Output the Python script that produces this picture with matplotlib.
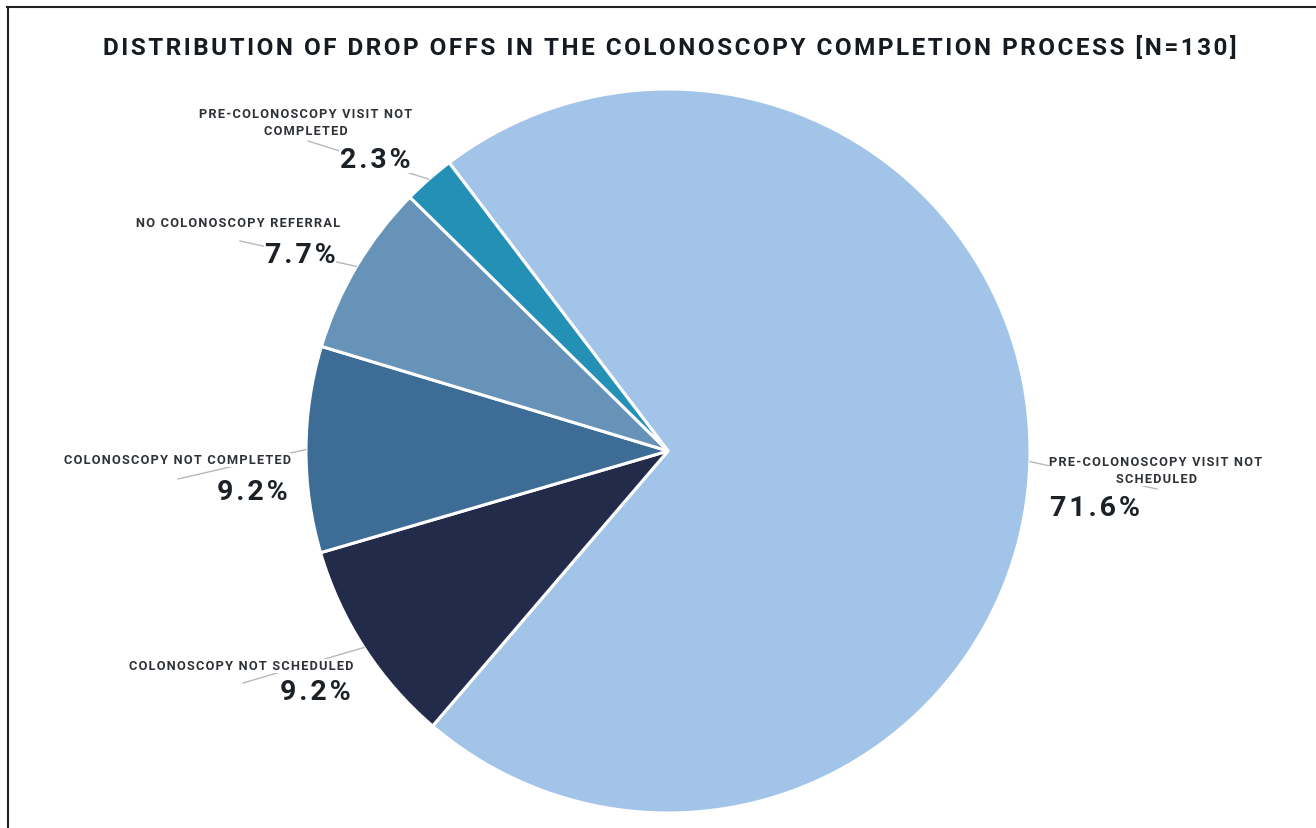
import matplotlib
matplotlib.use("Agg")
from matplotlib import pyplot as plt
from matplotlib.lines import Line2D
import numpy as np

# slice data, clockwise from the big slice
categories = ["PRE-COLONOSCOPY VISIT NOT\nSCHEDULED",
              "COLONOSCOPY NOT SCHEDULED",
              "COLONOSCOPY NOT COMPLETED",
              "NO COLONOSCOPY REFERRAL",
              "PRE-COLONOSCOPY VISIT NOT\nCOMPLETED"]
shares = [71.6, 9.2, 9.2, 7.7, 2.3]
colors = ["#a2c4e9", "#222b4a", "#3d6d96", "#6893b9", "#2590b6"]

title = "DISTRIBUTION OF DROP OFFS IN THE COLONOSCOPY COMPLETION PROCESS [N=130]"

W, H = 1316, 829
CX, CY, R = 668, 452, 362

# label layout in pixels: category centre, percent centre, leader end
cat_pos = [(1156, 471), (241, 667), (177, 461), (238, 223), (306, 123)]
pct_pos = [(1095, 509), (315, 693), (252, 492), (300, 255), (375, 160)]
lead_end = [(1157, 490), (243, 684), (178, 480), (240, 242), (308, 142)]


def spaced(s, sep="\u200a"):
    return "\n".join(sep.join(line) for line in s.split("\n"))


def to_data(p):
    return (p[0] - CX) / R, (CY - p[1]) / R


plt.rcParams['font.family'] = ['Roboto', 'DejaVu Sans']

fig = plt.figure(figsize=(W / 100, H / 100), dpi=100)
ax = fig.add_axes([(CX - R) / W, (H - CY - R) / H, 2 * R / W, 2 * R / H])

wedges, _ = ax.pie(shares, colors=colors, startangle=127.2, counterclock=False,
                   radius=1, wedgeprops=dict(edgecolor="white", linewidth=2.2))
ax.set_xlim(-1, 1)
ax.set_ylim(-1, 1)
ax.axis("off")

for i, w in enumerate(wedges):
    mid = np.deg2rad((w.theta1 + w.theta2) / 2)
    ex, ey = to_data(lead_end[i])
    ax.plot([np.cos(mid), ex], [np.sin(mid), ey], color="#b5b9bd", lw=1.0,
            zorder=1, clip_on=False)
    cx, cy = to_data(cat_pos[i])
    ax.text(cx, cy, spaced(categories[i]), ha="center", va="center",
            fontsize=9.2, fontweight="bold", color="#2e3236", linespacing=1.4,
            zorder=3, bbox=dict(fc="white", ec="none", pad=0.5))
    px, py = to_data(pct_pos[i])
    ax.text(px, py, spaced(f"{shares[i]:.1f}%"), ha="center", va="center",
            fontsize=20.5, fontweight="semibold", color="#1b2126",
            zorder=3, bbox=dict(fc="white", ec="none", pad=0.5))

fig.text(669.5 / W, 1 - 48 / H, spaced(title), ha="center", va="center",
         fontsize=17.5, fontweight="bold", color="#151b20")

# frame lines of the original figure
fig.add_artist(Line2D([7.5 / W, 7.5 / W], [0, 1 - 8 / H], color="#222222", lw=1.5))
fig.add_artist(Line2D([7 / W, 1], [1 - 8 / H, 1 - 8 / H], color="#222222", lw=1.5))

fig.savefig("out.png", dpi=100, facecolor="white")
